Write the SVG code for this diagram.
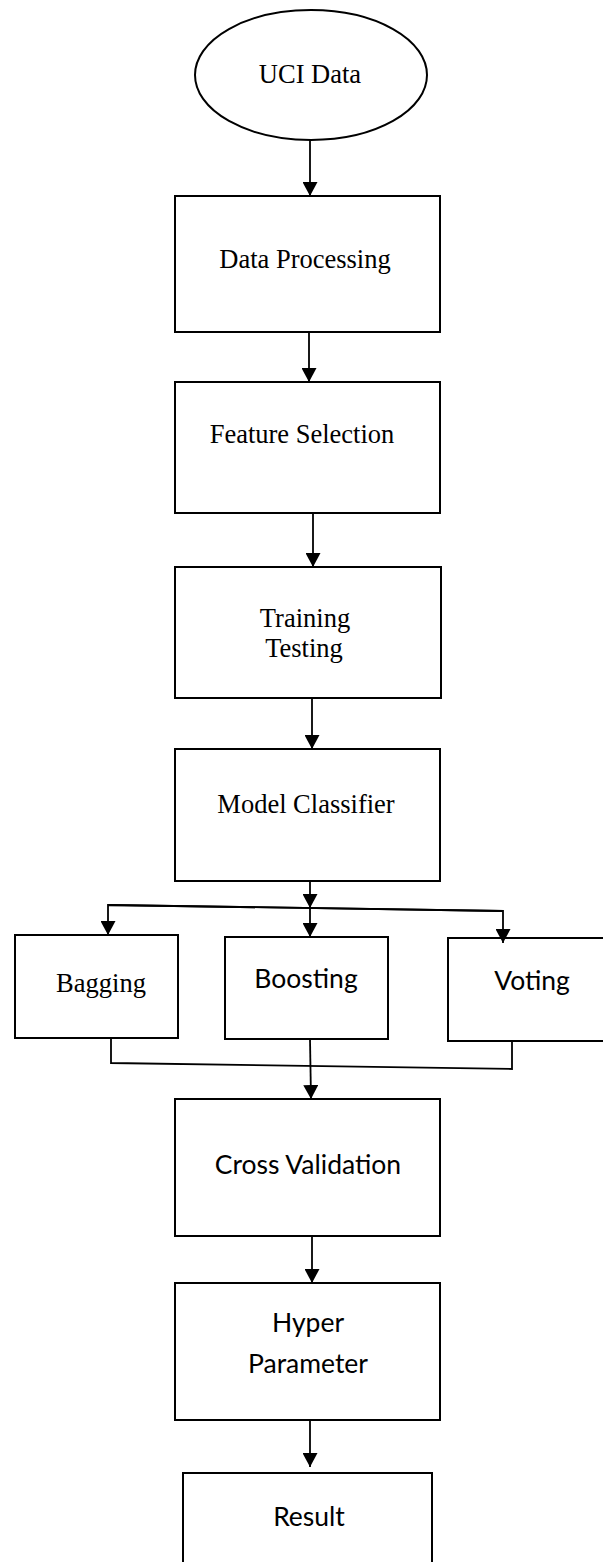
<svg xmlns="http://www.w3.org/2000/svg" width="603" height="1562" viewBox="0 0 603 1562">
  <style>
    .shape { fill: #fff; stroke: #000; stroke-width: 2; }
    .serif { font-family: "Liberation Serif", "Times New Roman", serif; font-size: 26.5px; fill: #000; text-anchor: middle; }
    .sans { font-family: Lato, "Open Sans", sans-serif; font-size: 26.5px; fill: #000; text-anchor: middle; }
    .link { fill: none; stroke: #000; stroke-width: 1.8; }
    .arrow { marker-end: url(#head); }
  </style>
  <defs>
    <marker id="head" viewBox="0 0 14 15" refX="14" refY="7.5" markerWidth="14" markerHeight="15" markerUnits="userSpaceOnUse" orient="auto">
      <path d="M0,0 L14,7.5 L0,15 Z" fill="#000"/>
    </marker>
  </defs>
  <rect width="603" height="1562" fill="#fff"/>

  <g id="uci-data">
    <ellipse class="shape" cx="311" cy="75" rx="116" ry="65"/>
    <text class="serif" x="310" y="83">UCI Data</text>
  </g>

  <g id="data-processing">
    <rect class="shape" x="175" y="196" width="265" height="136"/>
    <text class="serif" x="305" y="268">Data Processing</text>
  </g>

  <g id="feature-selection">
    <rect class="shape" x="175" y="382" width="265" height="131"/>
    <text class="serif" x="302" y="443">Feature Selection</text>
  </g>

  <g id="training-testing">
    <rect class="shape" x="175" y="567" width="266" height="131"/>
    <text class="serif" x="305" y="627">Training</text>
    <text class="serif" x="304" y="657">Testing</text>
  </g>

  <g id="model-classifier">
    <rect class="shape" x="175" y="749" width="265" height="132"/>
    <text class="serif" x="306" y="813">Model Classifier</text>
  </g>

  <g id="bagging">
    <rect class="shape" x="15" y="935" width="163" height="103"/>
    <text class="serif" x="101" y="992">Bagging</text>
  </g>

  <g id="boosting">
    <rect class="shape" x="225" y="937" width="163" height="102"/>
    <text class="sans" x="306" y="988">Boosting</text>
  </g>

  <g id="voting">
    <rect class="shape" x="448" y="938" width="170" height="103"/>
    <text class="sans" x="532" y="990">Voting</text>
  </g>

  <g id="cross-validation">
    <rect class="shape" x="175" y="1099" width="265" height="137"/>
    <text class="sans" x="308" y="1174">Cross Validation</text>
  </g>

  <g id="hyper-parameter">
    <rect class="shape" x="175" y="1283" width="265" height="137"/>
    <text class="sans" x="308" y="1332">Hyper</text>
    <text class="sans" x="308" y="1373">Parameter</text>
  </g>

  <g id="result">
    <rect class="shape" x="183" y="1473" width="249" height="100"/>
    <text class="sans" x="309" y="1526">Result</text>
  </g>

  <g id="connectors">
    <line class="link arrow" x1="310" y1="140" x2="310" y2="196"/>
    <line class="link arrow" x1="309" y1="332" x2="309" y2="382"/>
    <line class="link arrow" x1="313" y1="513" x2="313" y2="567"/>
    <line class="link arrow" x1="312" y1="698" x2="312" y2="749"/>
    <line class="link arrow" x1="310" y1="881" x2="310" y2="908"/>

    <!-- fan-out to the three ensemble methods -->
    <polyline class="link arrow" points="503,911 108,905 108,935"/>
    <line class="link arrow" x1="310" y1="908" x2="310" y2="937"/>
    <polyline class="link arrow" points="108,905 503,911 503,943"/>

    <!-- merge into cross validation -->
    <polyline class="link" points="111,1038 111,1063 512,1069 512,1041"/>
    <line class="link arrow" x1="310" y1="1039" x2="311" y2="1099"/>

    <line class="link arrow" x1="312" y1="1236" x2="312" y2="1283"/>
    <line class="link arrow" x1="310" y1="1420" x2="310" y2="1467"/>
  </g>
</svg>
